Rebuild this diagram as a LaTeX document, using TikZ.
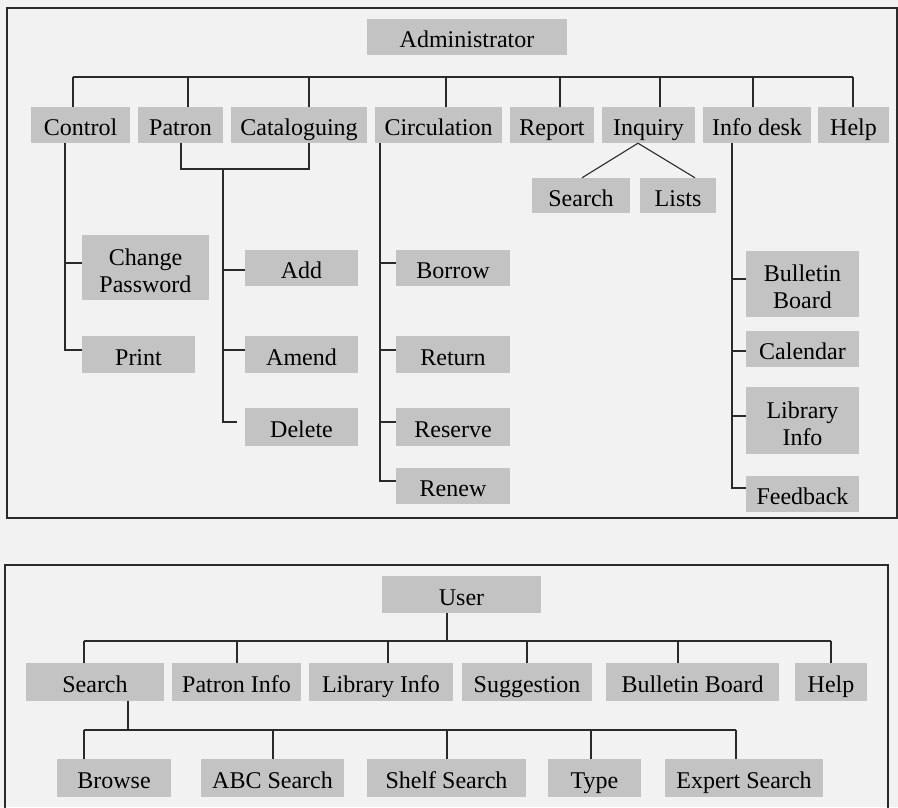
\documentclass[tikz,border=0pt]{standalone}
\usepackage{fontspec}
\setmainfont{Liberation Serif}
\definecolor{bgc}{HTML}{F2F2F2}
\definecolor{boxc}{HTML}{C3C3C3}
\definecolor{linec}{HTML}{2A2A2A}
\begin{document}
\begin{tikzpicture}[x=1pt,y=-1pt,
  boxbase/.style={fill=boxc, inner sep=0pt, align=center, minimum height=36pt,
    font=\fontsize{24}{27}\selectfont, text=black},
  box/.style={boxbase, text height=21.5pt, text depth=0pt},
  box2/.style={boxbase, text height=49pt, text depth=0pt},
  conn/.style={draw=linec, line width=1.1pt},
  frame/.style={draw=linec, line width=1.6pt}]
\useasboundingbox[fill=bgc] (0,0) rectangle (898,807);
% frames
\draw[frame] (7,8) rectangle (897,518);
\draw[frame] (5,565) rectangle (888,815);

% ===== Administrator =====
\node[box, minimum width=200pt] (admin) at (467,37) {Administrator};
\node[box, minimum width=99pt]  (control) at (80.5,125) {Control};
\node[box, minimum width=85pt]  (patron) at (180.5,125) {Patron};
\node[box, minimum width=136pt] (catal) at (299,125) {Cataloguing};
\node[box, minimum width=127pt] (circ) at (438.5,125) {Circulation};
\node[box, minimum width=84pt]  (report) at (552,125) {Report};
\node[box, minimum width=93pt]  (inquiry) at (648.5,125) {Inquiry};
\node[box, minimum width=108pt] (infodesk) at (757,125) {Info desk};
\node[box, minimum width=71pt]  (help) at (853.5,125) {Help};

\coordinate (busL) at (73,77);
\coordinate (busR) at (853,77);
\draw[conn] (busL) -- (busR);
\draw[conn] (busL) -- (73,77 |- control.north);
\draw[conn] (188,77) -- (188,77 |- patron.north);
\draw[conn] (309,77) -- (309,77 |- catal.north);
\draw[conn] (446,77) -- (446,77 |- circ.north);
\draw[conn] (560,77) -- (560,77 |- report.north);
\draw[conn] (660,77) -- (660,77 |- inquiry.north);
\draw[conn] (753,77) -- (753,77 |- infodesk.north);
\draw[conn] (busR) -- (busR |- help.north);

% Control children
\node[box2, minimum width=127pt, minimum height=65pt] (chpw) at (145.5,267.5) {Change\\Password};
\node[box, minimum width=113pt, minimum height=37pt] (print) at (138.5,354.5) {Print};
\draw[conn] (65,0 |- control.south) -- (65,350) -- (65,350 -| print.west);
\draw[conn] (65,263) -- (65,263 -| chpw.west);

% Patron / Cataloguing children
\node[box, minimum width=113pt] (add) at (301.5,268) {Add};
\node[box, minimum width=113pt, minimum height=37pt] (amend) at (301.5,354.5) {Amend};
\node[box, minimum width=113pt, minimum height=38pt] (delete) at (301.5,427) {Delete};
\draw[conn] (181,0 |- patron.south) -- (181,169) -- (309,169) -- (309,0 |- catal.south);
\draw[conn] (223,169) -- (223,422) -- (237,422);
\draw[conn] (223,270) -- (223,270 -| add.west);
\draw[conn] (223,350) -- (223,350 -| amend.west);

% Circulation children
\node[box, minimum width=114pt] (borrow) at (453,268) {Borrow};
\node[box, minimum width=114pt, minimum height=37pt] (return) at (453,354.5) {Return};
\node[box, minimum width=114pt, minimum height=38pt] (reserve) at (453,427) {Reserve};
\node[box, minimum width=114pt] (renew) at (453,486) {Renew};
\draw[conn] (380,0 |- circ.south) -- (380,481) -- (380,481 -| renew.west);
\draw[conn] (380,263) -- (380,263 -| borrow.west);
\draw[conn] (380,350) -- (380,350 -| return.west);
\draw[conn] (380,422) -- (380,422 -| reserve.west);

% Inquiry children
\node[box, minimum width=98pt, minimum height=35pt] (isearch) at (581,195.5) {Search};
\node[box, minimum width=76pt, minimum height=35pt] (lists) at (678,195.5) {Lists};
\coordinate (apex) at (638,0 |- inquiry.south);
\draw[conn] (apex) -- (582,0 |- isearch.north);
\draw[conn] (apex) -- (695,0 |- lists.north);

% Info desk children
\node[box2, minimum width=113pt, minimum height=66pt] (bboard) at (802.5,284) {Bulletin\\Board};
\node[box, minimum width=113pt] (calendar) at (802.5,349) {Calendar};
\node[box2, minimum width=113pt, minimum height=67pt] (libinfo) at (802.5,420.5) {Library\\Info};
\node[box, minimum width=113pt] (feedback) at (802.5,494) {Feedback};
\draw[conn] (732,0 |- infodesk.south) -- (732,488) -- (732,488 -| feedback.west);
\draw[conn] (732,279) -- (732,279 -| bboard.west);
\draw[conn] (732,351) -- (732,351 -| calendar.west);
\draw[conn] (732,416) -- (732,416 -| libinfo.west);

% ===== User =====
\node[box, minimum width=159pt, minimum height=37pt] (user) at (461.5,594.5) {User};
\node[box, minimum width=138pt, minimum height=38pt] (usearch) at (95,682) {Search};
\node[box, minimum width=129pt, minimum height=38pt] (patinfo) at (236.5,682) {Patron Info};
\node[box, minimum width=144pt, minimum height=38pt] (ulibinfo) at (381,682) {Library Info};
\node[box, minimum width=130pt, minimum height=38pt] (suggest) at (527,682) {Suggestion};
\node[box, minimum width=173pt, minimum height=38pt] (ubboard) at (692.5,682) {Bulletin Board};
\node[box, minimum width=72pt, minimum height=38pt] (uhelp) at (831,682) {Help};

\coordinate (ubusL) at (84,641);
\coordinate (ubusR) at (831,641);
\draw[conn] (447,0 |- user.south) -- (447,641);
\draw[conn] (ubusL) -- (ubusR);
\draw[conn] (ubusL) -- (ubusL |- usearch.north);
\draw[conn] (237,641) -- (237,641 |- patinfo.north);
\draw[conn] (388,641) -- (388,641 |- ulibinfo.north);
\draw[conn] (527,641) -- (527,641 |- suggest.north);
\draw[conn] (678,641) -- (678,641 |- ubboard.north);
\draw[conn] (ubusR) -- (ubusR |- uhelp.north);

\node[box, minimum width=114pt, minimum height=38pt] (browse) at (114,778) {Browse};
\node[box, minimum width=143pt, minimum height=38pt] (abc) at (272.5,778) {ABC Search};
\node[box, minimum width=159pt, minimum height=38pt] (shelf) at (446.5,778) {Shelf Search};
\node[box, minimum width=93pt, minimum height=38pt] (type) at (594.5,778) {Type};
\node[box, minimum width=158pt, minimum height=38pt] (expert) at (744,778) {Expert Search};

\coordinate (sbusL) at (84,730);
\coordinate (sbusR) at (736,730);
\draw[conn] (128,0 |- usearch.south) -- (128,730);
\draw[conn] (sbusL) -- (sbusR);
\draw[conn] (sbusL) -- (sbusL |- browse.north);
\draw[conn] (273,730) -- (273,730 |- abc.north);
\draw[conn] (447,730) -- (447,730 |- shelf.north);
\draw[conn] (591,730) -- (591,730 |- type.north);
\draw[conn] (sbusR) -- (sbusR |- expert.north);
\end{tikzpicture}
\end{document}
